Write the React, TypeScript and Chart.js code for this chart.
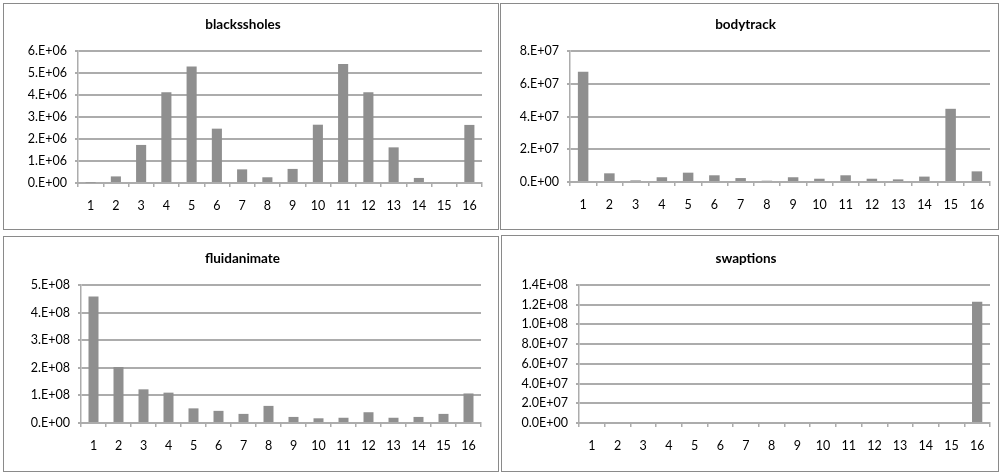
import React, { useEffect, useRef } from "react";
import { Chart, registerables } from "chart.js";

Chart.register(...registerables);

const categories = ["1", "2", "3", "4", "5", "6", "7", "8", "9", "10", "11", "12", "13", "14", "15", "16"];

const blackscholesValues = [0.02e6, 0.3e6, 1.73e6, 4.12e6, 5.29e6, 2.47e6, 0.62e6, 0.26e6, 0.64e6, 2.65e6, 5.41e6, 4.12e6, 1.62e6, 0.23e6, 0, 2.64e6];
const bodytrackValues = [6.73e7, 0.53e7, 0.1e7, 0.29e7, 0.57e7, 0.41e7, 0.24e7, 0.08e7, 0.29e7, 0.2e7, 0.41e7, 0.2e7, 0.16e7, 0.33e7, 4.47e7, 0.65e7];
const fluidanimateValues = [4.58e8, 2.03e8, 1.22e8, 1.1e8, 0.53e8, 0.44e8, 0.33e8, 0.62e8, 0.22e8, 0.17e8, 0.19e8, 0.39e8, 0.19e8, 0.22e8, 0.33e8, 1.07e8];
const swaptionsValues = [0.1e7, 0, 0, 0, 0, 0, 0, 0, 0, 0, 0, 0, 0, 0, 0, 1.23e8];

const blackscholesTicks = ["0.E+00", "1.E+06", "2.E+06", "3.E+06", "4.E+06", "5.E+06", "6.E+06"];
const bodytrackTicks = ["0.E+00", "2.E+07", "4.E+07", "6.E+07", "8.E+07"];
const fluidanimateTicks = ["0.E+00", "1.E+08", "2.E+08", "3.E+08", "4.E+08", "5.E+08"];
const swaptionsTicks = ["0.0E+00", "2.0E+07", "4.0E+07", "6.0E+07", "8.0E+07", "1.0E+08", "1.2E+08", "1.4E+08"];

const FONT = "Lato, 'Liberation Sans', sans-serif";
const GRID = "#acacac";
const BAR = "#8f8f8f";
const TEXT = "#000000";

type PanelCfg = {
  title: string;
  values: number[];
  ticks: string[];
  max: number;
  step: number;
  border: [number, number, number, number];
  plot: [number, number, number, number];
  titleY: number;
};

const panels: PanelCfg[] = [
  { title: "blackssholes", values: blackscholesValues, ticks: blackscholesTicks, max: 6e6, step: 1e6, border: [3, 3, 498, 229], plot: [78, 51, 482, 183], titleY: 25 },
  { title: "bodytrack", values: bodytrackValues, ticks: bodytrackTicks, max: 8e7, step: 2e7, border: [500, 3, 998, 229], plot: [570, 51, 990, 182], titleY: 25 },
  { title: "fluidanimate", values: fluidanimateValues, ticks: fluidanimateTicks, max: 5e8, step: 1e8, border: [3, 236, 498, 471], plot: [81, 285, 481, 423], titleY: 258.7 },
  { title: "swaptions", values: swaptionsValues, ticks: swaptionsTicks, max: 1.4e8, step: 2e7, border: [501, 235, 998, 471], plot: [579, 285, 990, 423], titleY: 258.7 },
];

function Panel({ cfg }: { cfg: PanelCfg }) {
  const ref = useRef<HTMLCanvasElement | null>(null);
  const [bl, bt, br, bb] = cfg.border;
  const cx = bl + 1;
  const cy = bt + 1;
  const cw = br - bl - 1;
  const ch = bb - bt - 1;
  const [pl, pt, pr, pb] = cfg.plot;
  const yWidth = pl - cx;
  const rightPad = cx + cw - pr;
  const xHeight = cy + ch - pb;
  const plotTop = pt - cy;
  const titleSize = 13.5;
  const titleLine = titleSize * 1.2;
  const titleCenter = cfg.titleY - cy;
  const titlePadTop = titleCenter - titleLine / 2;
  const titlePadBottom = plotTop - titleLine - titlePadTop;

  useEffect(() => {
    if (!ref.current) return;
    const chart = new Chart(ref.current, {
      type: "bar",
      data: {
        labels: categories,
        datasets: [
          {
            data: cfg.values,
            backgroundColor: BAR,
            borderWidth: 0,
            barPercentage: 0.4,
            categoryPercentage: 1,
          },
        ],
      },
      options: {
        responsive: false,
        animation: false,
        devicePixelRatio: 1,
        layout: { padding: { left: 0, right: rightPad, top: 0, bottom: 0 } },
        plugins: {
          legend: { display: false },
          tooltip: { enabled: false },
          title: {
            display: true,
            text: cfg.title,
            color: TEXT,
            font: { family: FONT, size: titleSize, weight: "bold", lineHeight: 1.2 },
            padding: { top: titlePadTop, bottom: titlePadBottom },
          },
        },
        scales: {
          x: {
            offset: true,
            grid: {
              offset: true,
              drawOnChartArea: false,
              drawTicks: true,
              tickLength: 4,
              color: GRID,
              lineWidth: 1.5,
            },
            border: { display: true, color: GRID, width: 2 },
            ticks: {
              color: TEXT,
              font: { family: FONT, size: 12.5 },
              padding: 11,
              maxRotation: 0,
              autoSkip: false,
            },
            afterFit: (scale: any) => {
              scale.height = xHeight;
            },
          },
          y: {
            min: 0,
            max: cfg.max,
            grid: {
              color: GRID,
              lineWidth: 2,
              drawTicks: true,
              tickLength: 3,
            },
            border: { display: true, color: GRID, width: 1.5 },
            ticks: {
              stepSize: cfg.step,
              color: TEXT,
              font: { family: FONT, size: 12.5 },
              padding: 8,
              callback: (_v: any, i: number) => cfg.ticks[i],
            },
            afterFit: (scale: any) => {
              scale.width = yWidth;
            },
          },
        },
      },
    });
    return () => chart.destroy();
  }, []);

  return (
    <div
      style={{
        position: "absolute",
        left: bl,
        top: bt,
        width: br - bl + 1,
        height: bb - bt + 1,
        boxSizing: "border-box",
        border: "1px solid #8a8a8a",
        background: "#fff",
      }}
    >
      <canvas ref={ref} width={cw} height={ch} style={{ display: "block", width: cw, height: ch }} />
    </div>
  );
}

export default function App() {
  return (
    <div style={{ position: "absolute", left: 0, top: 0, width: 999, height: 474, background: "#fff" }}>
      {panels.map((p) => (
        <Panel key={p.title} cfg={p} />
      ))}
    </div>
  );
}
